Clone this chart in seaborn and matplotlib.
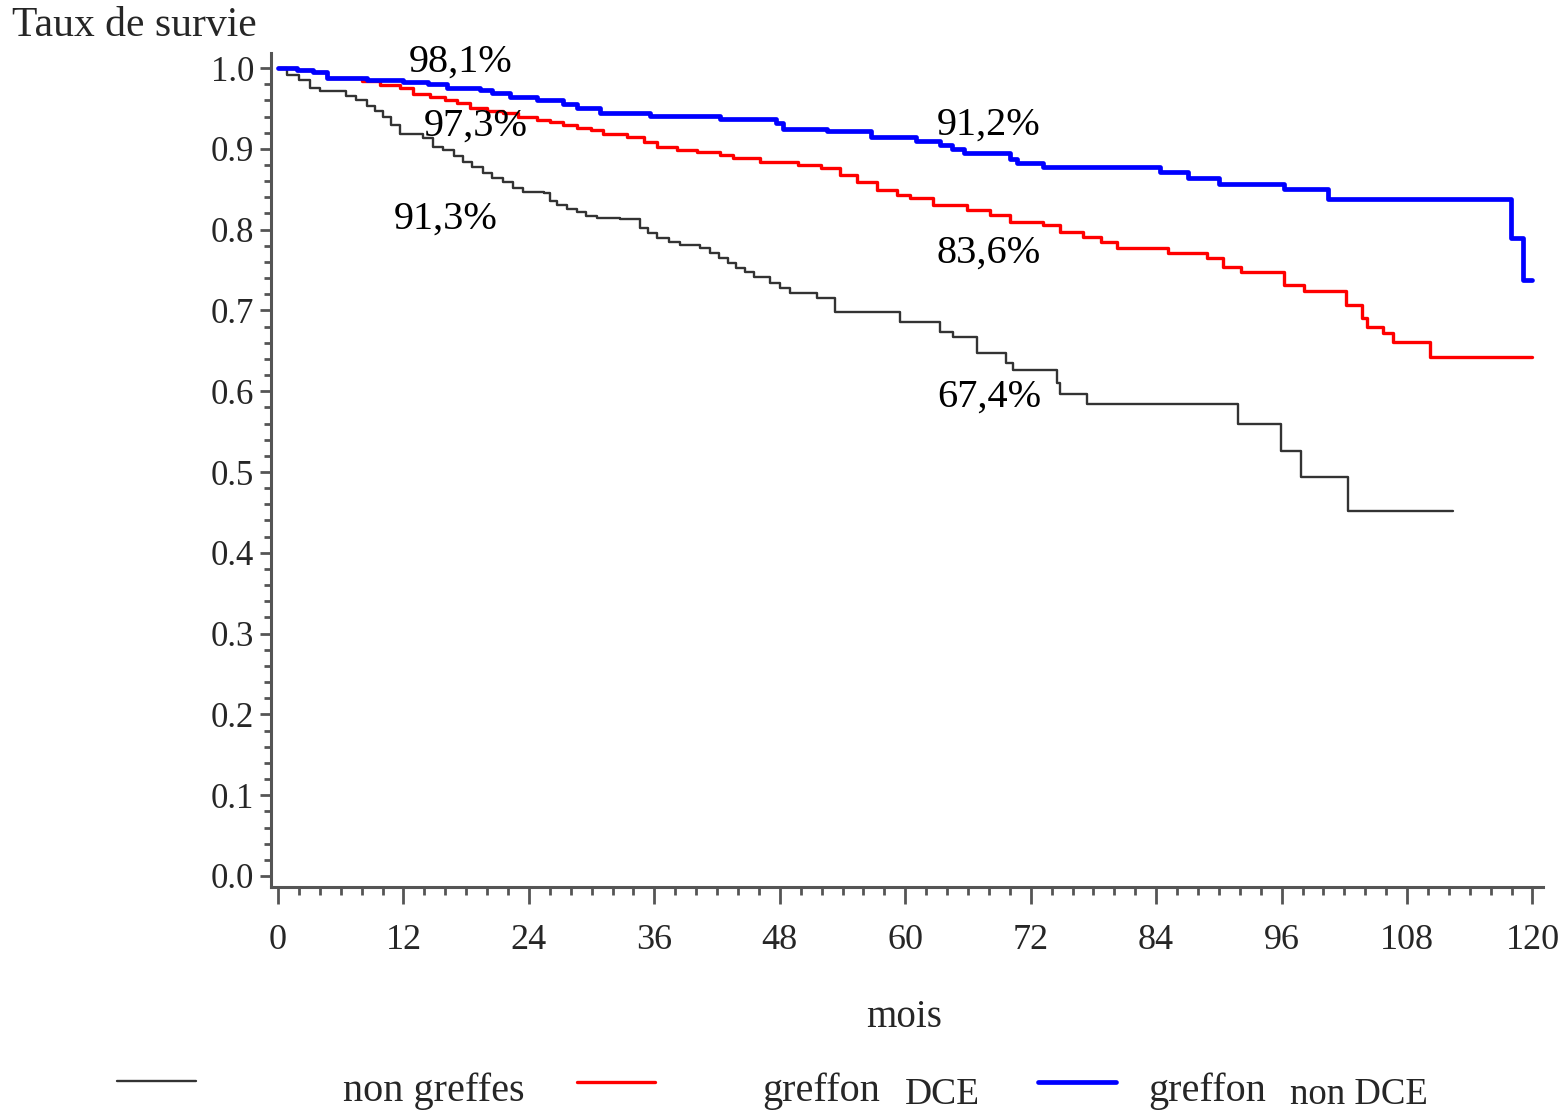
import numpy as np
import pandas as pd
import matplotlib
matplotlib.use("Agg")
import matplotlib.pyplot as plt
from matplotlib.lines import Line2D
from matplotlib.ticker import MultipleLocator, FixedLocator, FixedFormatter
import seaborn as sns

# ---------------- data ----------------
t_non_greffes = [0, 0.9, 2.0, 3.1, 4.0, 6.5, 7.5, 8.5, 9.3, 10.0, 10.8, 11.7, 13.9, 14.8,
                 15.8, 16.8, 17.7, 18.6, 19.6, 20.5, 21.5, 22.5, 23.4, 25.4, 26.0, 26.7,
                 27.6, 28.6, 29.5, 30.5, 32.7, 34.6, 35.4, 36.3, 37.4, 38.5, 40.4, 41.3,
                 42.2, 43.0, 43.8, 44.7, 45.5, 47.1, 48.0, 49.0, 51.6, 53.3, 59.5, 63.3,
                 64.6, 66.9, 69.6, 70.3, 74.5, 74.8, 77.4, 91.8, 95.9, 97.9, 102.4, 112.4]
s_non_greffes = [1.0, 0.991, 0.985, 0.975, 0.971, 0.966, 0.960, 0.953, 0.947, 0.940, 0.930,
                 0.918, 0.913, 0.902, 0.898, 0.891, 0.884, 0.877, 0.870, 0.864, 0.859, 0.852,
                 0.847, 0.845, 0.836, 0.830, 0.826, 0.822, 0.817, 0.814, 0.813, 0.802, 0.796,
                 0.790, 0.785, 0.781, 0.777, 0.771, 0.765, 0.759, 0.753, 0.747, 0.741, 0.734,
                 0.728, 0.722, 0.716, 0.698, 0.686, 0.673, 0.667, 0.647, 0.635, 0.626, 0.610,
                 0.597, 0.584, 0.559, 0.526, 0.494, 0.452, 0.452]

t_dce = [0, 1.8, 3.3, 4.7, 8.0, 9.8, 11.7, 12.9, 14.5, 16.0, 17.1, 18.4, 20.0, 21.5, 23.0,
         24.8, 26.0, 27.3, 28.6, 29.9, 31.1, 33.4, 35.0, 36.3, 38.2, 40.1, 42.3, 43.5, 46.1,
         49.7, 51.9, 53.8, 55.4, 57.3, 59.2, 60.5, 62.7, 65.9, 68.1, 70.0, 73.2, 74.8, 77.0,
         78.7, 80.3, 85.1, 88.9, 90.4, 92.1, 96.2, 98.1, 102.2, 103.7, 104.2, 105.7, 106.7,
         110.2, 120.0]
s_dce = [1.0, 0.998, 0.995, 0.988, 0.984, 0.979, 0.975, 0.968, 0.964, 0.961, 0.957, 0.950,
         0.947, 0.944, 0.940, 0.936, 0.933, 0.929, 0.926, 0.923, 0.918, 0.9145, 0.908, 0.902,
         0.8985, 0.896, 0.892, 0.8885, 0.884, 0.880, 0.876, 0.8675, 0.859, 0.849, 0.843,
         0.839, 0.830, 0.824, 0.818, 0.809, 0.806, 0.797, 0.791, 0.785, 0.777, 0.771, 0.765,
         0.754, 0.7475, 0.731, 0.724, 0.7065, 0.6905, 0.679, 0.672, 0.661, 0.642, 0.642]

t_non_dce = [0, 1.8, 3.3, 4.7, 8.5, 12.0, 14.3, 16.2, 19.3, 20.5, 22.2, 24.8, 27.3, 28.6,
             30.8, 35.6, 42.3, 47.6, 48.3, 52.5, 56.7, 61.0, 63.3, 64.5, 65.6, 70.0, 70.7,
             73.2, 84.4, 87.0, 90.0, 96.2, 100.4, 117.9, 119.1, 120.0]
s_non_dce = [1.0, 0.998, 0.995, 0.988, 0.985, 0.9825, 0.980, 0.975, 0.973, 0.969, 0.964,
             0.960, 0.955, 0.950, 0.944, 0.9405, 0.937, 0.932, 0.9245, 0.922, 0.9145, 0.910,
             0.905, 0.900, 0.895, 0.888, 0.8825, 0.8775, 0.871, 0.864, 0.8565, 0.850, 0.838,
             0.790, 0.7375, 0.7375]

x_ticks = [0, 12, 24, 36, 48, 60, 72, 84, 96, 108, 120]
y_ticks = [0.0, 0.1, 0.2, 0.3, 0.4, 0.5, 0.6, 0.7, 0.8, 0.9, 1.0]
y_ticklabels = ["0.0", "0.1", "0.2", "0.3", "0.4", "0.5", "0.6", "0.7", "0.8", "0.9", "1.0"]

annot_text = ["98,1%", "97,3%", "91,3%", "91,2%", "83,6%", "67,4%"]
annot_x = [17.5, 18.9, 16.0, 68.0, 68.0, 68.0]
annot_y = [1.007, 0.928, 0.813, 0.929, 0.771, 0.593]

# ---------------- style ----------------
sns.set_style("ticks")
plt.rcParams["font.family"] = ["Liberation Serif", "DejaVu Serif"]

fig = plt.figure(figsize=(15.62, 11.14), dpi=100)
ax = fig.add_axes([0.1735, 0.2038, 0.8143, 0.7486])

series = [
    (t_non_greffes, s_non_greffes, "#333333", 1.7),
    (t_dce, s_dce, "#ff0000", 2.4),
    (t_non_dce, s_non_dce, "#0000ff", 3.4),
]
for t, s, col, lw in series:
    df = pd.DataFrame({"mois": t, "survie": s})
    sns.lineplot(data=df, x="mois", y="survie", ax=ax, color=col, linewidth=lw,
                 drawstyle="steps-post", estimator=None, sort=False)

ax.set_xlim(-0.67, 121.0)
ax.set_ylim(-0.0136, 1.0186)

spine_col = "#555555"
for side in ["top", "right"]:
    ax.spines[side].set_visible(False)
for side in ["left", "bottom"]:
    ax.spines[side].set_color(spine_col)
    ax.spines[side].set_linewidth(2.2)

ax.xaxis.set_major_locator(FixedLocator(x_ticks))
ax.xaxis.set_minor_locator(MultipleLocator(2))
ax.yaxis.set_major_locator(FixedLocator(y_ticks))
ax.yaxis.set_major_formatter(FixedFormatter(y_ticklabels))
ax.yaxis.set_minor_locator(MultipleLocator(0.02))

ax.tick_params(axis="x", which="major", length=12, width=2, color=spine_col,
               labelsize=26, pad=15)
ax.tick_params(axis="x", which="minor", length=6, width=2, color=spine_col)
ax.tick_params(axis="y", which="major", length=8, width=2, color=spine_col,
               labelsize=25, pad=4)
ax.tick_params(axis="y", which="minor", length=5, width=2, color=spine_col)

ax.set_ylabel("")
ax.set_xlabel("mois", fontsize=28)
ax.xaxis.set_label_coords(0.498, -0.157)
ax.xaxis.label.set_va("center")

for txt, x, y in zip(annot_text, annot_x, annot_y):
    ax.text(x, y, txt, fontsize=29, ha="center", va="center", color="black")

fig.text(0.008, 0.977, "Taux de survie", fontsize=30, ha="left", va="center")

# ---------------- legend (bottom) ----------------
leg_lines = [
    (0.0749, 0.1255, 0.0296, "#333333", 1.7),
    (0.3694, 0.4193, 0.0287, "#ff0000", 2.4),
    (0.6645, 0.7145, 0.0287, "#0000ff", 3.4),
]
for x0, x1, y, col, lw in leg_lines:
    fig.add_artist(Line2D([x0, x1], [y, y], transform=fig.transFigure, color=col, linewidth=lw))

fig.text(0.2196, 0.0206, "non greffes", fontsize=29, ha="left", va="center")
fig.text(0.4878, 0.0206, "greffon", fontsize=29, ha="left", va="center")
fig.text(0.5794, 0.0170, "DCE", fontsize=27, ha="left", va="center")
fig.text(0.7350, 0.0206, "greffon", fontsize=29, ha="left", va="center")
fig.text(0.8259, 0.0170, "non DCE", fontsize=26.5, ha="left", va="center")

fig.savefig("out.png", dpi=100)
